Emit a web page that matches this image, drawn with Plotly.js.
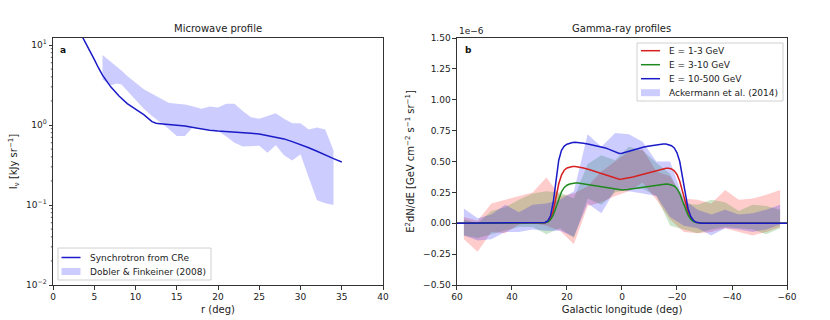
<!DOCTYPE html>
<html>
<head>
<meta charset="utf-8">
<script src="https://cdn.plot.ly/plotly-3.0.1.min.js"></script>
<style>
  html, body { margin: 0; padding: 0; background: #fff; }
  #chart { width: 830px; height: 320px; }
</style>
</head>
<body>
<div id="chart"></div>
<script>
// ---- panel a: microwave profile ----
var rLine = [3.5, 4, 4.5, 5, 5.5, 6, 7, 8, 9, 10, 11, 12, 12.5, 13, 14, 15, 16, 17, 18, 19, 20,
             21, 22, 23, 24, 25, 26, 27, 28, 29, 30, 31, 32, 33, 34, 35];
var synchrotron = [13, 10.5, 8.3, 6.6, 5.2, 4.2, 3.0, 2.3, 1.85, 1.58, 1.35, 1.1, 1.05, 1.04, 1.02, 1.0,
                   0.97, 0.93, 0.89, 0.86, 0.84, 0.83, 0.82, 0.8, 0.79, 0.77, 0.74, 0.71, 0.67, 0.62,
                   0.57, 0.52, 0.47, 0.42, 0.38, 0.345];

var rBand = [6, 7, 7.7, 8.3, 9, 10, 11, 12, 13, 14, 15, 16, 17, 18, 19, 20, 21, 22, 23, 24, 25,
             26, 27, 28, 29, 30, 31, 32, 33, 34];
var doblerHigh = [7.5, 6.2, 5.4, 4.8, 4.1, 3.4, 2.8, 2.45, 2.15, 1.9, 1.85, 1.8, 1.7, 1.6, 1.7, 1.65,
                  1.85, 1.85, 1.5, 1.25, 1.2, 1.3, 1.4, 1.2, 1.05, 1.05, 0.88, 0.93, 0.88, 0.48];
var doblerLow = [3.7, 3.15, 3.3, 3.2, 2.65, 2.05, 1.6, 1.3, 1.08, 0.9, 0.73, 0.73, 0.95, 0.9, 0.87,
                 0.84, 0.72, 0.6, 0.54, 0.55, 0.55, 0.45, 0.56, 0.42, 0.36, 0.43, 0.22, 0.115, 0.105, 0.1];

// ---- panel b: gamma-ray profiles (units of 1e-6) ----
var lonModel = [60, 50, 40, 32, 30, 29, 28, 27, 26, 25, 24, 23, 22, 21, 20, 19, 18, 17, 16, 14, 12,
                10, 8, 6, 4, 2, 1, 0, -2, -4, -6, -8, -10, -12, -14, -15, -16, -17, -18, -19, -20,
                -21, -22, -23, -24, -25, -26, -27, -28, -29, -30, -40, -50, -60];
var model1to3 = [0, 0, 0, 0, 0.0004, 0.0015, 0.005, 0.014, 0.04, 0.1, 0.21, 0.32, 0.39, 0.43, 0.448,
                 0.456, 0.46, 0.46, 0.457, 0.447, 0.435, 0.42, 0.405, 0.39, 0.375, 0.36, 0.357, 0.358,
                 0.365, 0.375, 0.387, 0.4, 0.413, 0.425, 0.437, 0.443, 0.446, 0.445, 0.44, 0.425, 0.395,
                 0.34, 0.26, 0.17, 0.095, 0.045, 0.019, 0.007, 0.0025, 0.0008, 0, 0, 0, 0];
var model3to10 = [0, 0, 0, 0, 0.0003, 0.001, 0.0035, 0.01, 0.028, 0.065, 0.13, 0.2, 0.255, 0.29, 0.308,
                  0.318, 0.323, 0.325, 0.325, 0.318, 0.31, 0.302, 0.294, 0.286, 0.278, 0.27, 0.268, 0.269,
                  0.274, 0.281, 0.288, 0.295, 0.302, 0.308, 0.314, 0.316, 0.317, 0.316, 0.312, 0.302, 0.28,
                  0.24, 0.18, 0.12, 0.068, 0.033, 0.014, 0.005, 0.0018, 0.0006, 0, 0, 0, 0];
var model10to500 = [0, 0, 0, 0, 0.0005, 0.002, 0.006, 0.018, 0.06, 0.17, 0.36, 0.51, 0.59, 0.625, 0.64,
                    0.648, 0.653, 0.655, 0.654, 0.648, 0.64, 0.632, 0.622, 0.61, 0.592, 0.572, 0.565, 0.567,
                    0.58, 0.595, 0.607, 0.617, 0.626, 0.634, 0.64, 0.642, 0.641, 0.637, 0.628, 0.61, 0.57,
                    0.5, 0.38, 0.23, 0.12, 0.055, 0.022, 0.008, 0.003, 0.001, 0, 0, 0, 0];

var lonData = [57.5, 52.5, 47.5, 42.5, 37.5, 32.5, 27.5, 22.5, 17.5, 12.5, 7.5, 2.5,
               -2.5, -7.5, -12.5, -17.5, -22.5, -27.5, -32.5, -37.5, -42.5, -47.5, -52.5, -57.5];
var ack1to3High = [0.05, 0.02, 0.16, 0.19, 0.22, 0.25, 0.37, 0.22, 0.24, 0.30, 0.42, 0.50,
                   0.58, 0.60, 0.42, 0.38, 0.20, 0.19, 0.16, 0.27, 0.19, 0.20, 0.23, 0.27];
var ack1to3Low = [-0.13, -0.23, -0.07, -0.08, -0.01, 0.0, -0.02, -0.06, -0.17, 0.14, 0.17, 0.22,
                  0.26, 0.33, 0.19, 0.03, -0.07, -0.08, -0.07, -0.04, -0.07, -0.10, -0.07, -0.03];
var ack3to10High = [0.03, 0.0, 0.10, 0.13, 0.19, 0.24, 0.26, 0.25, 0.20, 0.48, 0.55, 0.51,
                    0.62, 0.59, 0.49, 0.40, 0.16, 0.15, 0.19, 0.17, 0.10, 0.15, 0.14, 0.11];
var ack3to10Low = [-0.10, -0.12, -0.09, -0.06, -0.03, -0.03, -0.09, -0.04, -0.12, 0.20, 0.15, 0.25,
                   0.28, 0.28, 0.22, -0.02, -0.05, -0.08, -0.05, -0.03, -0.04, -0.05, -0.09, -0.04];
var ack10to500High = [0.12, 0.04, 0.07, 0.15, 0.09, 0.15, 0.16, 0.19, 0.26, 0.72, 0.62, 0.73,
                      0.72, 0.66, 0.50, 0.50, 0.19, 0.11, 0.07, 0.11, 0.07, 0.08, 0.11, 0.15];
var ack10to500Low = [-0.10, -0.14, -0.13, -0.07, -0.07, -0.05, -0.06, -0.06, -0.11, 0.16, 0.08, 0.27,
                     0.26, 0.24, 0.22, 0.05, -0.02, -0.04, -0.10, -0.04, -0.05, -0.07, -0.05, -0.01];

var RED = '#d62020', GREEN = '#1e8a1e', BLUE = '#1a1ac8';
var RED_FILL = 'rgba(255,0,0,0.2)', GREEN_FILL = 'rgba(0,128,0,0.2)', BLUE_FILL = 'rgba(0,0,255,0.2)';

function band(x, hi, lo, color, xa, ya) {
  return {
    x: x.concat(x.slice().reverse()),
    y: hi.concat(lo.slice().reverse()),
    type: 'scatter', mode: 'lines', fill: 'toself', xaxis: xa, yaxis: ya,
    fillcolor: color, line: {width: 0, color: color},
    hoverinfo: 'skip', showlegend: false
  };
}
function curve(x, y, color, xa, ya) {
  return {x: x, y: y, type: 'scatter', mode: 'lines', xaxis: xa, yaxis: ya,
          line: {color: color, width: 1.5}, showlegend: false};
}

var data = [
  band(rBand, doblerHigh, doblerLow, BLUE_FILL, 'x', 'y'),
  curve(rLine, synchrotron, BLUE, 'x', 'y'),
  band(lonData, ack1to3High, ack1to3Low, RED_FILL, 'x2', 'y2'),
  band(lonData, ack3to10High, ack3to10Low, GREEN_FILL, 'x2', 'y2'),
  band(lonData, ack10to500High, ack10to500Low, BLUE_FILL, 'x2', 'y2'),
  curve(lonModel, model1to3, RED, 'x2', 'y2'),
  curve(lonModel, model3to10, GREEN, 'x2', 'y2'),
  curve(lonModel, model10to500, BLUE, 'x2', 'y2')
];

var axisBase = {
  showline: true, mirror: true, linecolor: '#333', linewidth: 1,
  ticks: 'outside', ticklen: 3.5, tickwidth: 1, tickcolor: '#333',
  showgrid: false, zeroline: false,
  tickfont: {family: 'DejaVu Sans', size: 9, color: '#222'}
};
function ax(extra) {
  var o = JSON.parse(JSON.stringify(axisBase));
  for (var k in extra) o[k] = extra[k];
  return o;
}

var titleFont = {family: 'DejaVu Sans', size: 10, color: '#222'};
var legendFont = {family: 'DejaVu Sans', size: 9, color: '#222'};

// hand-drawn matplotlib-style legends (pixel boxes -> paper coords)
var M = {l: 53, r: 43, t: 38, b: 35}, W = 830, H = 320;
var LOG_RANGE = [-2, 1.0875];
function px(x) { return (x - M.l) / (W - M.l - M.r); }
function py(y) { return (H - M.b - y) / (H - M.t - M.b); }

var shapes = [], legendText = [];

// minor ticks of the log axis (2..9 x each decade), drawn just outside the left spine
[0.01, 0.1, 1, 10].forEach(function (d) {
  for (var m = 2; m <= 9; m++) {
    var f = (Math.log10(d * m) - LOG_RANGE[0]) / (LOG_RANGE[1] - LOG_RANGE[0]);
    if (f > 1) continue;
    shapes.push({type: 'line', xref: 'paper', yref: 'paper', x0: px(M.l - 2.2), x1: px(M.l), y0: f, y1: f,
                 line: {color: '#333', width: 0.8}});
  }
});

function legendBox(x0, y0, x1, y1) {
  shapes.push({type: 'rect', xref: 'paper', yref: 'paper', x0: px(x0), x1: px(x1), y0: py(y1), y1: py(y0),
               line: {color: '#d0d0d0', width: 1}, fillcolor: 'rgba(255,255,255,0.8)', layer: 'above'});
}
function legendEntry(x, y, label, kind, color) {
  if (kind === 'line') {
    shapes.push({type: 'line', xref: 'paper', yref: 'paper', x0: px(x), x1: px(x + 19), y0: py(y), y1: py(y),
                 line: {color: color, width: 1.5}, layer: 'above'});
  } else {
    shapes.push({type: 'rect', xref: 'paper', yref: 'paper', x0: px(x), x1: px(x + 19),
                 y0: py(y + 3.5), y1: py(y - 3.5), line: {width: 0}, fillcolor: color, layer: 'above'});
  }
  legendText.push({xref: 'paper', yref: 'paper', x: px(x + 26), y: py(y), xanchor: 'left', yanchor: 'middle',
                   text: label, showarrow: false, font: legendFont});
}

legendBox(58, 248, 211, 280);
legendEntry(61.5, 257.5, 'Synchrotron from CRe', 'line', BLUE);
legendEntry(61.5, 271.5, 'Dobler &amp; Finkeiner (2008)', 'rect', BLUE_FILL);

legendBox(637, 43, 783, 101);
legendEntry(641, 50.7, 'E = 1-3 GeV', 'line', RED);
legendEntry(641, 64.7, 'E = 3-10 GeV', 'line', GREEN);
legendEntry(641, 78.7, 'E = 10-500 GeV', 'line', BLUE);
legendEntry(641, 92.7, 'Ackermann et al. (2014)', 'rect', BLUE_FILL);

var layout = {
  width: W, height: H,
  margin: M,
  paper_bgcolor: '#fff', plot_bgcolor: '#fff',
  font: {family: 'DejaVu Sans', color: '#222'},
  showlegend: false,
  xaxis: ax({domain: [0, 0.4496], range: [0, 40], dtick: 5, tick0: 0,
             title: {text: 'r (deg)', font: titleFont, standoff: 4}}),
  yaxis: ax({type: 'log', range: LOG_RANGE,
             tickvals: [0.01, 0.1, 1, 10],
             ticktext: ['10<sup>\u22122</sup>', '10<sup>\u22121</sup>', '10<sup>0</sup>', '10<sup>1</sup>'],
             title: {text: 'I<sub>\u03bd</sub> [kJy sr<sup>\u22121</sup>]', font: titleFont, standoff: 6}}),
  xaxis2: ax({domain: [0.5504, 1], anchor: 'y2', range: [60, -60], dtick: 20, tick0: 0,
              title: {text: 'Galactic longitude (deg)', font: titleFont, standoff: 4}}),
  yaxis2: ax({anchor: 'x2', range: [-0.5, 1.5], dtick: 0.25, tick0: 0, tickformat: '.2f',
              title: {text: 'E<sup>2</sup>dN/dE [GeV cm<sup>\u22122</sup> s<sup>\u22121</sup> sr<sup>\u22121</sup>]',
                      font: titleFont, standoff: 6}}),
  shapes: shapes,
  annotations: [
    {xref: 'x domain', yref: 'y domain', x: 0.5, y: 1, yanchor: 'bottom', yshift: 2,
     text: 'Microwave profile', showarrow: false, font: titleFont},
    {xref: 'x2 domain', yref: 'y2 domain', x: 0.5, y: 1, yanchor: 'bottom', yshift: 2,
     text: 'Gamma-ray profiles', showarrow: false, font: titleFont},
    {xref: 'x domain', yref: 'y domain', x: 0.03, y: 0.953, xanchor: 'center', yanchor: 'middle',
     text: '<b>a</b>', showarrow: false, font: {family: 'DejaVu Sans', size: 9, color: '#111'}},
    {xref: 'x2 domain', yref: 'y2 domain', x: 0.036, y: 0.953, xanchor: 'center', yanchor: 'middle',
     text: '<b>b</b>', showarrow: false, font: {family: 'DejaVu Sans', size: 9, color: '#111'}},
    {xref: 'x2 domain', yref: 'y2 domain', x: 0, y: 1, xanchor: 'left', yanchor: 'bottom',
     text: '1e\u22126', showarrow: false, font: {family: 'DejaVu Sans', size: 9, color: '#222'}}
  ].concat(legendText)
};

Plotly.newPlot('chart', data, layout, {displayModeBar: false, staticPlot: true});
</script>
</body>
</html>
